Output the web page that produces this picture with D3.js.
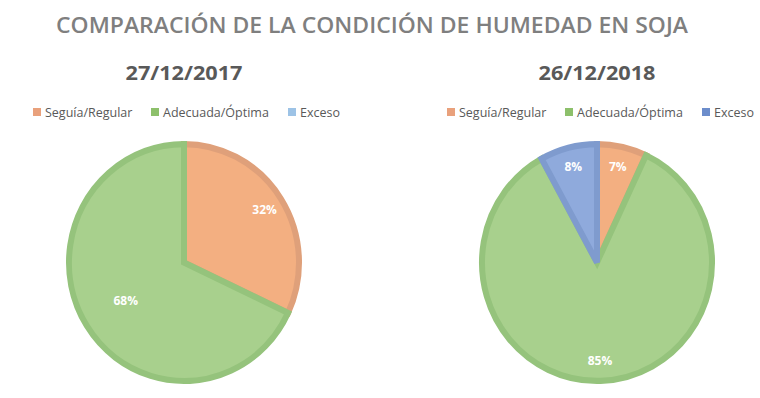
<!DOCTYPE html>
<html>
<head>
<meta charset="utf-8">
<script src="https://cdn.jsdelivr.net/npm/d3@7"></script>
<style>
  body { margin: 0; background: #fff; }
  text { font-family: "Open Sans", sans-serif; }
</style>
</head>
<body>
<div id="chart"></div>
<script>
// Data.
const title = "COMPARACIÓN DE LA CONDICIÓN DE HUMEDAD EN SOJA"
const categories = ["Seguía/Regular", "Adecuada/Óptima", "Exceso"]
const dates = ["27/12/2017", "26/12/2018"]
const values2017 = [32, 68, 0]
const values2018 = [7, 85, 8]

// Colours.
const fills = ["#F3AF81", "#A8D08D", "#8FAADC"]
const strokes = ["#DFA07A", "#95C37C", "#7F9BCE"]
const legendColours = [["#E9A17C", "#8DC06B", "#9DC3E6"], ["#E9A17C", "#8DC06B", "#6C8DCB"]]

let width = 760
let height = 398

let svg = d3.select("#chart").append("svg")
    .attr("width", width)
    .attr("height", height)

// Main title.
svg.append("text")
    .attr("x", 372)
    .attr("y", 33)
    .attr("text-anchor", "middle")
    .attr("textLength", 632)
    .attr("lengthAdjust", "spacingAndGlyphs")
    .style("font-size", "22px")
    .style("font-weight", "600")
    .style("fill", "#7F7F7F")
    .text(title)

let panels = [
    {date: dates[0], values: values2017, cx: 184, legendX: 33, legend: legendColours[0]},
    {date: dates[1], values: values2018, cx: 597, legendX: 447, legend: legendColours[1]}
]

let radius = 115
let pie = d3.pie().sort(null).value(d => d.value)
let arc = d3.arc().innerRadius(0).outerRadius(radius)
let legendGaps = [0, 118, 255]

panels.forEach(function(p) {
    let g = svg.append("g")

    // Date subtitle.
    g.append("text")
        .attr("x", p.cx)
        .attr("y", 80)
        .attr("text-anchor", "middle")
        .attr("textLength", 117)
        .attr("lengthAdjust", "spacingAndGlyphs")
        .style("font-size", "19px")
        .style("font-weight", "bold")
        .style("fill", "#595959")
        .text(p.date)

    // Legend.
    let leg = g.append("g").attr("transform", "translate(" + p.legendX + ",112)")
    categories.forEach(function(c, i) {
        leg.append("rect")
            .attr("x", legendGaps[i])
            .attr("y", -4)
            .attr("width", 8)
            .attr("height", 8)
            .style("fill", p.legend[i])
        leg.append("text")
            .attr("x", legendGaps[i] + 12)
            .attr("y", 4.5)
            .style("font-size", "12.5px")
            .style("fill", "#595959")
            .text(c)
    })

    // Pie.
    let data = categories.map((c, i) => ({name: c, value: p.values[i], idx: i}))
    let pieG = g.append("g")
        .attr("transform", "translate(" + p.cx + ",262.5) scale(1,1.03)")

    pieG.selectAll("path")
        .data(pie(data).filter(d => d.data.value > 0))
        .enter()
        .append("path")
        .attr("d", arc)
        .style("fill", d => fills[d.data.idx])
        .style("stroke", d => strokes[d.data.idx])
        .style("stroke-width", "6px")
        .style("stroke-linejoin", "miter")

    // Percentage labels.
    pieG.selectAll("text")
        .data(pie(data).filter(d => d.data.value > 0))
        .enter()
        .append("text")
        .attr("transform", function(d) {
            let a = (d.startAngle + d.endAngle) / 2
            let r = radius * (d.data.value > 50 && d.data.value < 80 ? 0.6 : 0.83)
            return "translate(" + (Math.sin(a) * r) + "," + (-Math.cos(a) * r) + ") scale(1," + (1 / 1.03) + ")"
        })
        .attr("text-anchor", "middle")
        .attr("dy", "0.35em")
        .style("font-size", "12px")
        .style("font-weight", "bold")
        .style("fill", "#FFFFFF")
        .text(d => d.data.value + "%")
})
</script>
</body>
</html>
